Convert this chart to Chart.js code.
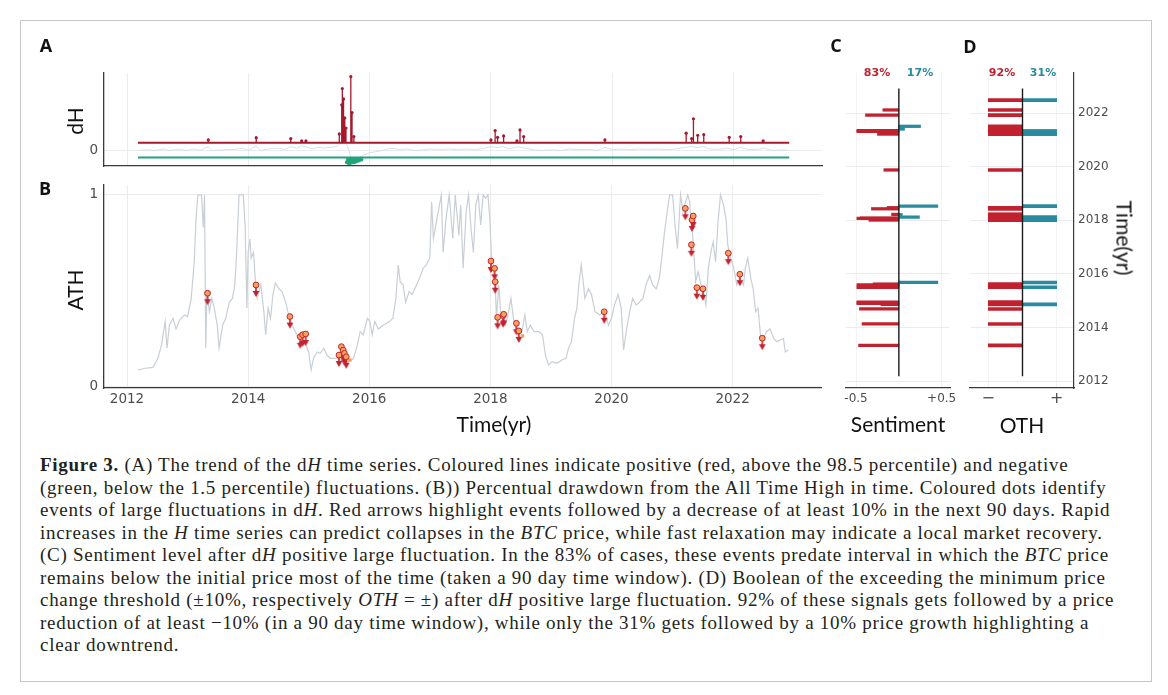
<!DOCTYPE html>
<html>
<head>
<meta charset="utf-8">
<script src="https://cdn.jsdelivr.net/npm/chart.js@4.4.1/dist/chart.umd.min.js"></script>
<style>
body { margin: 0; background: #fff; width: 1168px; height: 695px; position: relative; overflow: hidden; }
canvas { position: absolute; }
.t { position: absolute; white-space: nowrap; transform: translate(-50%, -50%); line-height: 1; }
.panel { font-family: 'Open Sans', sans-serif; font-weight: 700; font-size: 18px; color: #111; }
.title { font-family: Lato, sans-serif; font-size: 21px; color: #111; }
.pct { font-family: 'DejaVu Sans', sans-serif; font-weight: 700; font-size: 11px; }
#frame { position: absolute; left: 20px; top: 20px; width: 1130px; height: 660px; border: 1px solid #c8c8c8; }
#caption { position: absolute; left: 40px; top: 454px; font-family: 'Liberation Serif', serif; font-size: 19px; letter-spacing: 0.72px; line-height: 22.5px; color: #231f20; white-space: nowrap; }
</style>
</head>
<body>
<div id="frame"></div>

<canvas id="cA" width="786" height="134" style="left:40px;top:53px"></canvas>
<canvas id="cB" width="786" height="253" style="left:40px;top:165px"></canvas>
<canvas id="cC" width="144" height="365" style="left:826px;top:53px"></canvas>
<canvas id="cD" width="184" height="365" style="left:950px;top:53px"></canvas>

<div class="t panel" style="left:46px;top:45px">A</div>
<div class="t panel" style="left:45px;top:188px">B</div>
<div class="t panel" style="left:836px;top:45px">C</div>
<div class="t panel" style="left:970px;top:46px">D</div>

<div class="t title" style="left:74px;top:121px;transform:translate(-50%,-50%) rotate(-90deg)">dH</div>
<div class="t title" style="left:74px;top:290px;transform:translate(-50%,-50%) rotate(-90deg)">ATH</div>
<div class="t title" style="left:494px;top:423px">Time(yr)</div>
<div class="t title" style="left:898px;top:423px">Sentiment</div>
<div class="t title" style="left:1022px;top:424px">OTH</div>
<div class="t title" style="left:1125px;top:238px;transform:translate(-50%,-50%) rotate(90deg)">Time(yr)</div>

<div class="t pct" id="pC0" style="left:877px;top:72px"></div>
<div class="t pct" id="pC1" style="left:920px;top:72px"></div>
<div class="t pct" id="pD0" style="left:1002px;top:72px"></div>
<div class="t pct" id="pD1" style="left:1043px;top:72px"></div>

<div id="caption">
<b>Figure 3.</b> (A) The trend of the d<i>H</i> time series. Coloured lines indicate positive (red, above the 98.5 percentile) and negative<br>
(green, below the 1.5 percentile) fluctuations. (B)) Percentual drawdown from the All Time High in time. Coloured dots identify<br>
events of large fluctuations in d<i>H</i>. Red arrows highlight events followed by a decrease of at least 10% in the next 90 days. Rapid<br>
increases in the <i>H</i> time series can predict collapses in the <i>BTC</i> price, while fast relaxation may indicate a local market recovery.<br>
(C) Sentiment level after d<i>H</i> positive large fluctuation. In the 83% of cases, these events predate interval in which the <i>BTC</i> price<br>
remains below the initial price most of the time (taken a 90 day time window). (D) Boolean of the exceeding the minimum price<br>
change threshold (±10%, respectively <i>OTH</i> = ±) after d<i>H</i> positive large fluctuation. 92% of these signals gets followed by a price<br>
reduction of at least −10% (in a 90 day time window), while only the 31% gets followed by a 10% price growth highlighting a<br>
clear downtrend.
</div>

<script>
// ---- data ----
const yearTicks = [2012, 2014, 2016, 2018, 2020, 2022];

// B: drawdown from all time high
const athYears = [
  2012.18, 2012.30, 2012.43, 2012.51, 2012.57, 2012.63, 2012.66, 2012.70, 2012.76, 2012.81, 2012.87, 2012.95,
  2013.00, 2013.06, 2013.11, 2013.14, 2013.17, 2013.23, 2013.26, 2013.28, 2013.30, 2013.32, 2013.36, 2013.40,
  2013.44, 2013.49, 2013.52, 2013.58, 2013.63, 2013.69, 2013.74, 2013.78, 2013.81, 2013.85, 2013.92, 2013.95,
  2013.98, 2014.00, 2014.03, 2014.05, 2014.09, 2014.13, 2014.15, 2014.21, 2014.26, 2014.29, 2014.33, 2014.37,
  2014.41, 2014.45, 2014.51, 2014.56, 2014.62, 2014.67, 2014.73, 2014.78, 2014.84, 2014.89, 2014.95, 2015.00,
  2015.04, 2015.08, 2015.14, 2015.19, 2015.25, 2015.30, 2015.36, 2015.47, 2015.57, 2015.68, 2015.74, 2015.79,
  2015.85, 2015.90, 2015.97, 2016.01, 2016.05, 2016.09, 2016.15, 2016.23, 2016.34, 2016.39, 2016.44, 2016.48,
  2016.51, 2016.56, 2016.60, 2016.66, 2016.71, 2016.78, 2016.83, 2016.89, 2016.94, 2017.00, 2017.03, 2017.06,
  2017.10, 2017.15, 2017.19, 2017.22, 2017.27, 2017.32, 2017.38, 2017.42, 2017.48, 2017.51, 2017.55, 2017.60,
  2017.64, 2017.68, 2017.72, 2017.76, 2017.80, 2017.84, 2017.88, 2017.92, 2017.96, 2017.99, 2018.02, 2018.06,
  2018.08, 2018.10, 2018.14, 2018.17, 2018.21, 2018.25, 2018.30, 2018.34, 2018.38, 2018.42, 2018.46, 2018.52,
  2018.57, 2018.61, 2018.66, 2018.72, 2018.80, 2018.86, 2018.91, 2018.96, 2019.02, 2019.10, 2019.18, 2019.25,
  2019.29, 2019.34, 2019.39, 2019.43, 2019.46, 2019.50, 2019.54, 2019.56, 2019.62, 2019.67, 2019.73, 2019.81,
  2019.89, 2019.95, 2020.00, 2020.05, 2020.11, 2020.16, 2020.20, 2020.25, 2020.30, 2020.35, 2020.41, 2020.46,
  2020.52, 2020.57, 2020.63, 2020.68, 2020.74, 2020.79, 2020.83, 2020.87, 2020.92, 2020.96, 2021.01, 2021.05,
  2021.09, 2021.14, 2021.18, 2021.21, 2021.26, 2021.29, 2021.31, 2021.34, 2021.37, 2021.39, 2021.43, 2021.48,
  2021.52, 2021.56, 2021.60, 2021.64, 2021.68, 2021.72, 2021.76, 2021.80, 2021.85, 2021.89, 2021.92, 2021.97,
  2022.02, 2022.07, 2022.12, 2022.18, 2022.21, 2022.25, 2022.30, 2022.34, 2022.38, 2022.42, 2022.46, 2022.50,
  2022.56, 2022.62, 2022.68, 2022.73, 2022.79, 2022.84, 2022.87, 2022.92
];
const athValues = [
  0.086, 0.095, 0.10, 0.147, 0.217, 0.34, 0.20, 0.32, 0.356, 0.30, 0.347, 0.373,
  0.365, 0.46, 0.65, 0.88, 1.0, 1.0, 0.83, 1.0, 0.20, 0.495, 0.39, 0.46,
  0.41, 0.32, 0.20, 0.32, 0.356, 0.44, 0.46, 0.53, 0.70, 1.0, 1.0, 0.84,
  0.41, 0.70, 0.77, 0.67, 0.70, 0.495, 0.46, 0.53, 0.39, 0.27, 0.41, 0.356,
  0.48, 0.54, 0.51, 0.495, 0.44, 0.373, 0.32, 0.286, 0.25, 0.234, 0.217, 0.18,
  0.086, 0.147, 0.18, 0.173, 0.20, 0.164, 0.147, 0.147, 0.13, 0.13, 0.147, 0.20,
  0.286, 0.27, 0.356, 0.34, 0.27, 0.34, 0.30, 0.32, 0.34, 0.356, 0.46, 0.634,
  0.547, 0.53, 0.44, 0.495, 0.48, 0.53, 0.565, 0.617, 0.634, 0.67, 0.965, 0.774,
  0.843, 0.93, 1.0, 0.70, 0.88, 1.0, 0.774, 1.0, 0.79, 0.948, 0.617, 0.913,
  1.0, 0.826, 0.70, 0.948, 1.0, 0.843, 1.0, 0.983, 1.0, 0.88, 0.67, 0.617,
  0.547, 0.356, 0.53, 0.39, 0.356, 0.32, 0.39, 0.46, 0.356, 0.30, 0.27, 0.286,
  0.373, 0.286, 0.32, 0.286, 0.286, 0.27, 0.164, 0.112, 0.13, 0.121, 0.138, 0.147,
  0.20, 0.234, 0.356, 0.41, 0.53, 0.634, 0.53, 0.46, 0.51, 0.48, 0.39, 0.373,
  0.39, 0.32, 0.356, 0.425, 0.48, 0.41, 0.19, 0.30, 0.39, 0.46, 0.425, 0.44,
  0.46, 0.53, 0.58, 0.53, 0.51, 0.565, 0.67, 0.79, 0.913, 1.0, 1.0, 0.843,
  0.72, 1.0, 0.913, 0.948, 1.0, 0.965, 0.88, 0.79, 0.65, 0.547, 0.60, 0.53,
  0.495, 0.425, 0.617, 0.70, 0.756, 0.65, 0.86, 1.0, 0.948, 0.88, 0.74, 0.67,
  0.617, 0.53, 0.565, 0.53, 0.617, 0.67, 0.565, 0.51, 0.39, 0.41, 0.27, 0.25,
  0.286, 0.30, 0.25, 0.234, 0.243, 0.25, 0.18, 0.19
];

// A: dH series and its large fluctuations
const dhYears = [
  2012.20, 2012.35, 2012.45, 2012.60, 2012.70, 2012.85, 2013.00, 2013.10, 2013.20, 2013.34, 2013.40, 2013.60,
  2013.80, 2013.90, 2014.00, 2014.13, 2014.20, 2014.35, 2014.50, 2014.60, 2014.70, 2014.80, 2014.88, 2014.95,
  2015.05, 2015.15, 2015.25, 2015.35, 2015.45, 2015.50, 2015.60, 2015.66, 2015.70, 2015.75, 2015.80, 2015.90,
  2016.00, 2016.10, 2016.20, 2016.35, 2016.50, 2016.60, 2016.75, 2016.90, 2017.00, 2017.15, 2017.30, 2017.45,
  2017.60, 2017.75, 2017.90, 2018.00, 2018.10, 2018.20, 2018.30, 2018.45, 2018.55, 2018.70, 2018.85, 2019.00,
  2019.15, 2019.30, 2019.45, 2019.60, 2019.75, 2019.88, 2020.00, 2020.15, 2020.30, 2020.45, 2020.60, 2020.75,
  2020.90, 2021.05, 2021.20, 2021.30, 2021.40, 2021.50, 2021.60, 2021.75, 2021.90, 2022.00, 2022.12, 2022.25,
  2022.40, 2022.50, 2022.65, 2022.80, 2022.92
];
const dhValues = [
  0, 0.01, 0, 0.02, 0, 0.015, 0, 0.02, 0, 0.05, 0, 0.01,
  0.015, 0.03, 0, 0.06, 0, 0.02, 0.03, 0.01, 0.05, 0.03, 0.06, 0.05,
  0.02, 0.04, 0.03, 0.04, 0.05, 0.08, 0.10, 0, -0.12, -0.14, -0.10, -0.06,
  -0.03, -0.015, 0, 0.03, 0.01, 0.02, 0, 0.01, 0.02, 0.01, 0.02, 0.01,
  0.02, 0.01, 0.03, 0.05, 0.04, 0.05, 0.02, 0.05, 0.03, 0.01, 0, 0.01,
  0, 0.02, 0.01, 0.015, 0, 0.04, 0.01, 0.02, 0.01, 0.02, 0.015, 0.02,
  0.01, 0.02, 0.04, 0.05, 0.04, 0.05, 0.02, 0.015, 0.03, 0.01, 0.04, 0.01,
  0.015, 0.03, 0, 0.01, 0
];
const posThreshold = 0.10;
const negThreshold = -0.09;
const posSpikeYears = [
  2013.34, 2014.13, 2014.70, 2014.88, 2014.95, 2015.50, 2015.54, 2015.55, 2015.57, 2015.59, 2015.61, 2015.69,
  2015.71, 2015.74, 2018.00, 2018.07, 2018.11, 2018.21, 2018.43, 2018.48, 2018.54, 2019.88, 2021.22, 2021.31,
  2021.34, 2021.41, 2021.51, 2021.93, 2022.12, 2022.49
];
const posSpikeValues = [
  0.137, 0.166, 0.154, 0.124, 0.124, 0.214, 0.588, 0.80, 0.666, 0.42, 0.29, 0.954,
  0.489, 0.18, 0.137, 0.257, 0.17, 0.188, 0.124, 0.266, 0.18, 0.137, 0.223, 0.154,
  0.41, 0.197, 0.205, 0.17, 0.18, 0.124
];
const negSpikeYears = [2015.63, 2015.66, 2015.69, 2015.72, 2015.75, 2015.78, 2015.82, 2015.86];
const negSpikeValues = [-0.15, -0.16, -0.155, -0.15, -0.145, -0.135, -0.125, -0.115];

// events of large positive dH fluctuation (B dots, C and D bars)
const eventYears = [
  2013.33, 2014.13, 2014.69, 2014.86, 2014.90, 2014.95, 2015.50, 2015.54, 2015.57, 2015.59, 2015.62, 2015.68,
  2018.01, 2018.07, 2018.08, 2018.12, 2018.21, 2018.22, 2018.43, 2018.47, 2018.53, 2019.88, 2021.22, 2021.32,
  2021.33, 2021.35, 2021.41, 2021.51, 2021.93, 2022.12, 2022.49
];
const eventATH = [
  0.487, 0.53, 0.365, 0.26, 0.27, 0.274, 0.164, 0.208, 0.19, 0.173, 0.155, 0.138,
  0.655, 0.617, 0.547, 0.361, 0.37, 0.377, 0.33, 0.29, 0.264, 0.39, 0.93, 0.74,
  0.87, 0.89, 0.516, 0.51, 0.696, 0.586, 0.252
];
// followed by a drop of at least 10% (red arrow, D red)
const eventDrop = [1,1,1,1,1,1,1,1,1,1,1,0, 1,1,1,1,1,1,1,1,0,1,1,1, 1,1,1,1,1,1,1];
// followed by a rise of at least 10% (D blue)
const eventRise = [0,0,0,1,0,0,1,0,0,0,0,1, 1,1,0,1,0,0,0,0,1,0,1,1, 1,0,0,0,0,0,1];
const eventSentiment = [
  -0.47, -0.43, -0.46, -0.21, -0.49, -0.49, -0.49, -0.48, -0.29, -0.49, -0.30, 0.455,
  -0.35, -0.49, -0.45, 0.24, 0.04, -0.085, -0.32, -0.136, 0.455, -0.175, -0.25, -0.49,
  -0.42, -0.49, 0.066, 0.253, -0.389, -0.187, null
];
const sentimentShares = ['83%', '17%'];
const othShares = ['92%', '31%'];

// ---- styling ----
const RED_LINE = '#a5192d';
const RED = '#c1222f';
const TEAL = '#2a8a9e';
const GREEN = '#22a37c';
const ORANGE = '#f5a35c';
const GREY_ATH = '#c7cfd7';
const GRID = '#ececec';
const AXIS = '#3a3a3a';
const tickFont = { family: 'DejaVu Sans', size: 13.5 };
const TICK_COLOR = '#4d4d4d';

document.getElementById('pC0').textContent = sentimentShares[0];
document.getElementById('pC1').textContent = sentimentShares[1];
document.getElementById('pD0').textContent = othShares[0];
document.getElementById('pD1').textContent = othShares[1];
['pC0', 'pD0'].forEach(id => document.getElementById(id).style.color = RED);
['pC1', 'pD1'].forEach(id => document.getElementById(id).style.color = TEAL);

const pts = (xs, ys) => xs.map((x, i) => ({ x: x, y: ys[i] }));
const stems = (xs, ys, base) => xs.flatMap((x, i) => [{ x: x, y: base }, { x: x, y: ys[i] }, { x: x, y: null }]);
const firstYear = athYears[0];
const lastYear = athYears[athYears.length - 1];
const setTicks = vals => scale => { scale.ticks = vals.map(v => ({ value: v })); };

const base = {
  responsive: false,
  animation: false,
  events: [],
  plugins: { legend: { display: false }, tooltip: { enabled: false } }
};

// arrow marker: drawn in the lower half so it hangs below the event dot
function makeArrow() {
  const c = document.createElement('canvas');
  c.width = 8; c.height = 26;
  const g = c.getContext('2d');
  g.strokeStyle = RED; g.fillStyle = RED; g.lineWidth = 1.6;
  g.beginPath(); g.moveTo(4, 13); g.lineTo(4, 20); g.stroke();
  g.beginPath(); g.moveTo(0.6, 19); g.lineTo(7.4, 19); g.lineTo(4, 25); g.closePath(); g.fill();
  return c;
}
const arrow = makeArrow();

// ---- A ----
new Chart(document.getElementById('cA'), {
  type: 'scatter',
  data: {
    datasets: [
      { data: pts(posSpikeYears, posSpikeValues), pointRadius: 1.6, backgroundColor: RED_LINE, borderWidth: 0 },
      { type: 'line', data: stems(posSpikeYears, posSpikeValues, posThreshold), borderColor: RED_LINE, borderWidth: 1.3, pointRadius: 0, spanGaps: false },
      { data: pts(negSpikeYears, negSpikeValues), pointRadius: 2.2, backgroundColor: GREEN, borderWidth: 0 },
      { type: 'line', data: stems(negSpikeYears, negSpikeValues, negThreshold), borderColor: GREEN, borderWidth: 2, pointRadius: 0, spanGaps: false },
      { type: 'line', data: [{ x: firstYear, y: posThreshold }, { x: lastYear, y: posThreshold }], borderColor: RED_LINE, borderWidth: 1.8, pointRadius: 0 },
      { type: 'line', data: [{ x: firstYear, y: negThreshold }, { x: lastYear, y: negThreshold }], borderColor: GREEN, borderWidth: 1.8, pointRadius: 0 },
      { type: 'line', data: pts(dhYears, dhValues), borderColor: '#d6dae1', borderWidth: 0.9, pointRadius: 0 }
    ]
  },
  options: {
    ...base,
    layout: { padding: { top: 20, left: 0, right: 0, bottom: 0 } },
    scales: {
      x: {
        type: 'linear', min: 2011.62, max: 2023.46,
        afterBuildTicks: setTicks(yearTicks),
        ticks: { display: false },
        grid: { color: GRID, drawTicks: false },
        border: { color: AXIS, width: 1.3 },
        afterFit: s => { s.height = 21; }
      },
      y: {
        type: 'linear', min: -0.2, max: 1.0,
        afterBuildTicks: setTicks([0]),
        ticks: { font: tickFont, color: TICK_COLOR, padding: 6, callback: v => String(v) },
        grid: { color: GRID, drawTicks: false },
        border: { color: AXIS, width: 1.3 },
        afterFit: s => { s.width = 64; }
      }
    }
  }
});

// ---- B ----
const dropIdx = eventYears.map((_, i) => i).filter(i => eventDrop[i]);
const keepIdx = eventYears.map((_, i) => i).filter(i => !eventDrop[i]);
new Chart(document.getElementById('cB'), {
  type: 'scatter',
  data: {
    datasets: [
      { data: dropIdx.map(i => ({ x: eventYears[i], y: eventATH[i] })), pointRadius: 2.9, backgroundColor: ORANGE, borderColor: RED, borderWidth: 1 },
      { data: keepIdx.map(i => ({ x: eventYears[i], y: eventATH[i] })), pointRadius: 2, backgroundColor: ORANGE, borderWidth: 0 },
      { data: dropIdx.map(i => ({ x: eventYears[i], y: eventATH[i] })), pointStyle: arrow, pointRadius: 4 },
      { type: 'line', data: pts(athYears, athValues), borderColor: GREY_ATH, borderWidth: 1.2, pointRadius: 0 }
    ]
  },
  options: {
    ...base,
    layout: { padding: { top: 20, left: 0, right: 0, bottom: 0 } },
    scales: {
      x: {
        type: 'linear', min: 2011.62, max: 2023.46,
        afterBuildTicks: setTicks(yearTicks),
        ticks: { font: tickFont, color: TICK_COLOR, padding: 3, maxRotation: 0, autoSkip: false, callback: v => String(v) },
        grid: { color: GRID, drawTicks: false },
        border: { color: AXIS, width: 1.3 },
        afterFit: s => { s.height = 30; }
      },
      y: {
        type: 'linear', min: -0.008, max: 1.052,
        afterBuildTicks: setTicks([0, 1]),
        ticks: { font: tickFont, color: TICK_COLOR, padding: 6, callback: v => String(v) },
        grid: { color: GRID, drawTicks: false },
        border: { color: AXIS, width: 1.3 },
        afterFit: s => { s.width = 64; }
      }
    }
  }
});

// ---- C ----
const sentIdx = eventYears.map((_, i) => i).filter(i => eventSentiment[i] !== null);
const timeRange = { type: 'linear', min: 2011.74, max: 2023.5, offset: false, afterBuildTicks: setTicks(yearTicks) };
const centreLine = { type: 'line', data: [{ x: 0, y: firstYear }, { x: 0, y: lastYear }], borderColor: '#1a1a1a', borderWidth: 1.4, pointRadius: 0 };
new Chart(document.getElementById('cC'), {
  type: 'bar',
  data: {
    datasets: [
      centreLine,
      {
        type: 'bar', indexAxis: 'y', grouped: false, barThickness: 2.6,
        data: sentIdx.map(i => ({ x: eventSentiment[i], y: eventYears[i] })),
        backgroundColor: ctx => (ctx.raw && ctx.raw.x < 0) ? RED : TEAL
      }
    ]
  },
  options: {
    ...base,
    layout: { padding: { top: 20, left: 20, right: 20, bottom: 0 } },
    scales: {
      x: {
        type: 'linear', min: -0.617, max: 0.597, offset: false,
        afterBuildTicks: setTicks([-0.5, 0.5]),
        ticks: { font: { family: 'DejaVu Sans', size: 12 }, color: TICK_COLOR, padding: 4, maxRotation: 0, autoSkip: false, callback: v => v < 0 ? '-0.5' : '+0.5' },
        grid: { color: '#f3f3f3', drawTicks: false, offset: false },
        border: { color: AXIS, width: 1.2 },
        afterFit: s => { s.height = 30; }
      },
      y: {
        ...timeRange,
        ticks: { display: false },
        grid: { color: GRID, drawTicks: false, offset: false },
        border: { display: false },
        afterFit: s => { s.width = 0; }
      }
    }
  }
});

// ---- D ----
new Chart(document.getElementById('cD'), {
  type: 'bar',
  data: {
    datasets: [
      centreLine,
      {
        type: 'bar', indexAxis: 'y', grouped: false, barThickness: 3,
        data: eventYears.map((y, i) => ({ x: -1, y: y })).filter((_, i) => eventDrop[i]),
        backgroundColor: RED
      },
      {
        type: 'bar', indexAxis: 'y', grouped: false, barThickness: 3,
        data: eventYears.map((y, i) => ({ x: 1, y: y })).filter((_, i) => eventRise[i]),
        backgroundColor: TEAL
      }
    ]
  },
  options: {
    ...base,
    layout: { padding: { top: 20, left: 20, right: 0, bottom: 0 } },
    scales: {
      x: {
        type: 'linear', min: -1.535, max: 1.506, offset: false,
        afterBuildTicks: setTicks([-1, 1]),
        ticks: { font: { family: 'DejaVu Sans', size: 16 }, color: TICK_COLOR, padding: 1, maxRotation: 0, autoSkip: false, callback: v => v < 0 ? '\u2212' : '+' },
        grid: { color: '#f3f3f3', drawTicks: false, offset: false },
        border: { color: AXIS, width: 1.2 },
        afterFit: s => { s.height = 30; }
      },
      y: {
        ...timeRange,
        position: 'right',
        ticks: { font: { family: 'DejaVu Sans', size: 12 }, color: TICK_COLOR, padding: 4, autoSkip: false, callback: v => String(v) },
        grid: { color: GRID, drawTicks: false, offset: false },
        border: { color: AXIS, width: 1.2 },
        afterFit: s => { s.width = 60; }
      }
    }
  }
});
</script>
</body>
</html>
